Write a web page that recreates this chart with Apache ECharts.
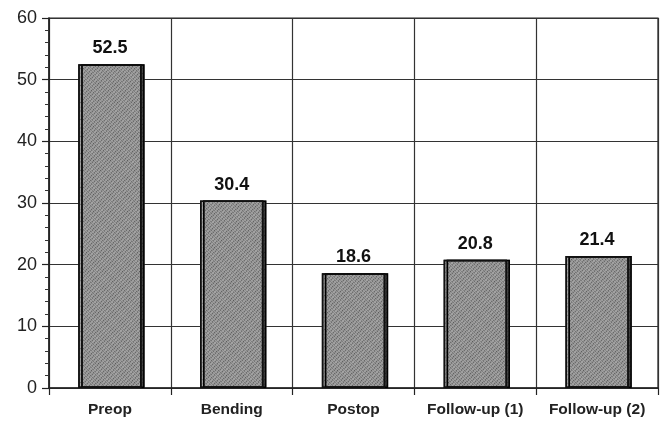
<!DOCTYPE html>
<html><head><meta charset="utf-8">
<script src="https://cdn.jsdelivr.net/npm/echarts@6/dist/echarts.min.js"></script>
<style>html,body{margin:0;padding:0;background:#fff}#c{width:663px;height:421px}</style>
</head><body><div id="c"></div>
<script>
const categories = ['Preop', 'Bending', 'Postop', 'Follow-up (1)', 'Follow-up (2)'];
const values = [52.5, 30.4, 18.6, 20.8, 21.4];
const yTicks = [0, 10, 20, 30, 40, 50, 60];

const chart = echarts.init(document.getElementById('c'));
chart.setOption({
  animation: false,
  backgroundColor: '#fff',
  grid: { left: 49, right: 5, top: 18, bottom: 33, show: true, borderColor: '#222', borderWidth: 1.2 },
  xAxis: {
    type: 'category',
    data: categories,
    boundaryGap: true,
    axisLine: { lineStyle: { color: '#222', width: 1.5 } },
    axisTick: { show: true, length: 7, interval: 0, lineStyle: { color: '#222', width: 1.2 } },
    axisLabel: { color: '#222', fontFamily: 'Liberation Sans, Arial, sans-serif', fontWeight: 'bold', fontSize: 15.5, margin: 14, interval: 0 },
    splitLine: { show: true, interval: 0, lineStyle: { color: '#333', width: 1.2 } }
  },
  yAxis: {
    type: 'value',
    min: yTicks[0], max: yTicks[yTicks.length - 1], interval: 10,
    axisLine: { show: true, lineStyle: { color: '#222', width: 1.5 } },
    axisTick: { show: true, length: 7, lineStyle: { color: '#222', width: 1.2 } },
    minorTick: { show: true, splitNumber: 5, length: 4, lineStyle: { color: '#333', width: 1 } },
    axisLabel: { color: '#222', fontFamily: 'Liberation Sans, Arial, sans-serif', fontSize: 18, margin: 12 },
    splitLine: { show: true, lineStyle: { color: '#333', width: 1.2 } }
  },
  series: [{
    type: 'bar',
    data: values,
    barWidth: '52%',
    itemStyle: {
      color: '#a4a4a4',
      borderColor: '#111',
      borderWidth: 1.5,
      shadowColor: '#444',
      shadowOffsetX: 3,
      shadowOffsetY: 0,
      shadowBlur: 0,
      decal: { symbol: 'rect', symbolSize: 1, dashArrayX: [1, 1], dashArrayY: [1, 2], rotation: -Math.PI / 4, color: 'rgba(40,40,40,0.45)' }
    },
    label: {
      show: true, position: 'top', distance: 7,
      color: '#111', fontFamily: 'Liberation Sans, Arial, sans-serif', fontWeight: 'bold', fontSize: 18,
      formatter: p => p.value.toFixed(1)
    }
  }]
});
</script></body></html>
